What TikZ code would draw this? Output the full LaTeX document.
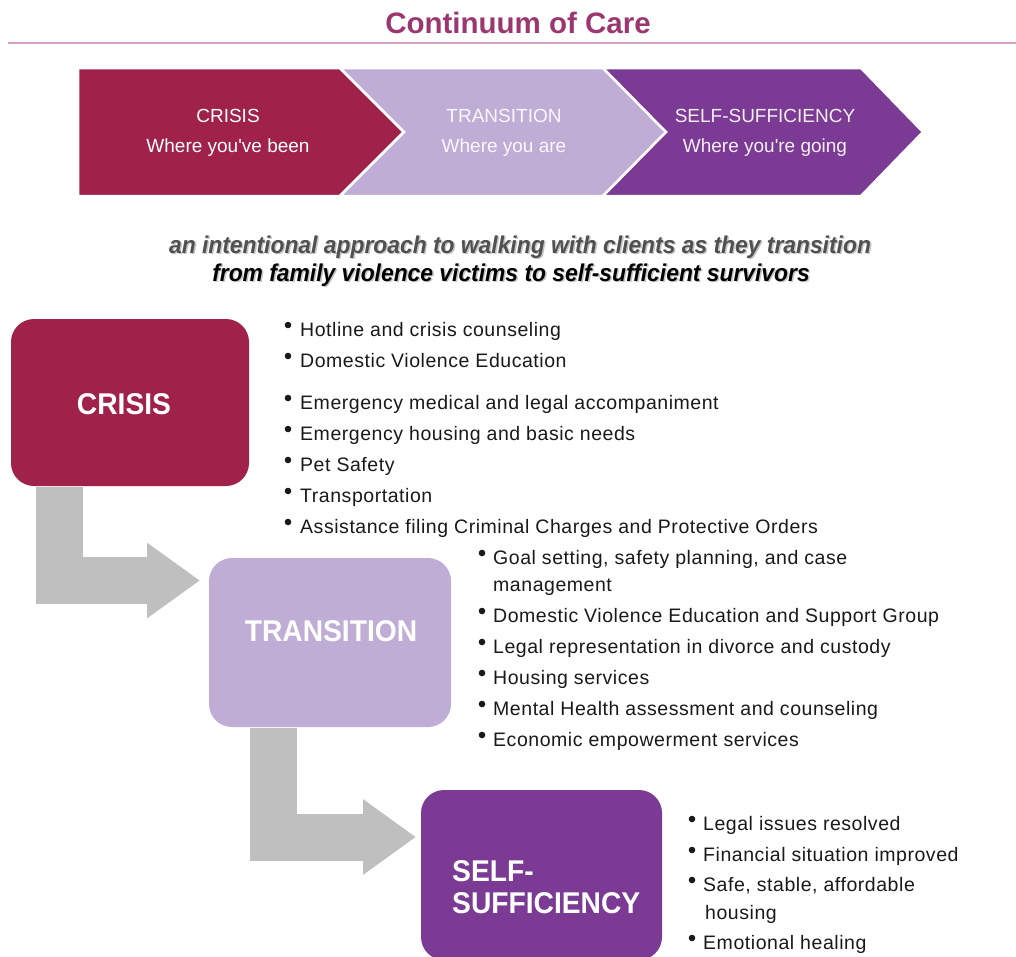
\documentclass[tikz,border=0pt]{standalone}
\usepackage{fontspec}
\setmainfont{Liberation Sans}
\newfontfamily\condfont[FakeStretch=0.94]{Liberation Sans}
\newfontfamily\listfont[LetterSpace=2.8]{Liberation Sans}
\usetikzlibrary{arrows.meta}

\definecolor{titlec}{RGB}{155,55,110}
\definecolor{rulec}{RGB}{214,162,192}
\definecolor{crisisc}{RGB}{160,34,74}
\definecolor{transc}{RGB}{192,173,214}
\definecolor{selfc}{RGB}{123,58,147}
\definecolor{arrowc}{RGB}{191,191,191}
\definecolor{textc}{RGB}{25,25,25}
\definecolor{tagc}{RGB}{80,80,80}

\tikzset{
  chevron/.style={draw=white, line width=2.5pt, line join=miter},
  chevtext/.style={font=\fontsize{19}{19}\selectfont, inner sep=0pt},
  tagline/.style={font=\condfont\bfseries\itshape\fontsize{24.3}{24.3}\selectfont, inner sep=0pt, anchor=base},
  stagebox/.style={rounded corners=23pt, inner sep=0pt},
  boxtext/.style={font=\condfont\bfseries\fontsize{30}{30}\selectfont, text=white, inner sep=0pt},
  blockarrow/.style={draw=arrowc, line width=47pt, line join=miter,
    -{Triangle[width=72pt,length=53pt,fill=arrowc]}},
  item/.style={font=\listfont\fontsize{19.5}{19.5}\selectfont, text=textc, anchor=base west, inner sep=0pt},
  bulletdot/.style={fill=textc},
}

\begin{document}
\begin{tikzpicture}[x=1pt,y=-1pt]
\useasboundingbox (0,0) rectangle (1016,956);
\clip (0,0) rectangle (1016,956);

% heading and rule
\node[font=\bfseries\fontsize{29.5}{29.5}\selectfont, text=titlec, anchor=base, inner sep=0pt] (title) at (518,33) {Continuum of Care};
\coordinate (ruleL) at (8,42.5);
\coordinate (ruleR) at (1016,42.5);
\draw[rulec, line width=2pt] (ruleL) -- (ruleR);

% three-stage chevron band
\fill[crisisc, chevron] (78,68) -- (340,68) -- (404,132) -- (340,196) -- (78,196) -- cycle;
\fill[transc, chevron] (340,68) -- (603,68) -- (666,132) -- (603,196) -- (340,196) -- (404,132) -- cycle;
\fill[selfc, chevron] (603,68) -- (861,68) -- (923,132) -- (861,196) -- (603,196) -- (666,132) -- cycle;

\node[chevtext, text=white] (ch1a) at (228,116) {CRISIS};
\node[chevtext, text=white] (ch1b) at (228,148) {Where you\textquotesingle ve been};
\node[chevtext, text=white!92!transc] (ch2a) at (504,116) {TRANSITION};
\node[chevtext, text=white!92!transc] (ch2b) at (504,148) {Where you are};
\node[chevtext, text=white!92!selfc] (ch3a) at (765,116) {SELF-SUFFICIENCY};
\node[chevtext, text=white!92!selfc] (ch3b) at (765,148) {Where you\textquotesingle re going};

% tag lines with soft drop shadow
\node[tagline, text=gray!45] (tag1s) at (521.5,254.5) {an intentional approach to walking with clients as they transition};
\node[tagline, text=tagc] (tag1) at (520,253) {an intentional approach to walking with clients as they transition};
\node[tagline, text=gray!45] (tag2s) at (512.5,282.5) {from family violence victims to self-sufficient survivors};
\node[tagline, text=black] (tag2) at (511,281) {from family violence victims to self-sufficient survivors};

% stage boxes
\node[stagebox, fill=crisisc, minimum width=238pt, minimum height=167pt] (crisis) at (130,402.5) {};
\node[boxtext] (crisisT) at (124,404) {CRISIS};
\node[stagebox, fill=transc, minimum width=242pt, minimum height=169pt] (transition) at (330,642.5) {};
\node[boxtext] (transT) at (331,631) {TRANSITION};
\node[stagebox, fill=selfc, minimum width=241pt, minimum height=170pt] (self) at (541.5,875) {};
\node[boxtext, anchor=west, align=left, font=\condfont\bfseries\fontsize{30}{32}\selectfont] (selfT) at (452,887) {SELF-\\SUFFICIENCY};

% elbow arrows between stages
\coordinate (a1s) at (59,487);
\coordinate (a1e) at (200,580.5);
\draw[blockarrow] (a1s) |- (a1e);
\coordinate (a2s) at (273.5,728);
\coordinate (a2e) at (416,837);
\draw[blockarrow] (a2s) |- (a2e);

% crisis services
\foreach \y/\t [count=\i] in {336/Hotline and crisis counseling,
  367/Domestic Violence Education,
  409/Emergency medical and legal accompaniment,
  440/Emergency housing and basic needs,
  471/Pet Safety,
  502/Transportation,
  533/Assistance filing Criminal Charges and Protective Orders}{
  \coordinate (b1-\i) at (288,\y-11);
  \fill[bulletdot] (b1-\i) circle[radius=3.3pt];
  \node[item] (l1-\i) at (300,\y) {\t};
}

% transition services
\foreach \y/\t [count=\i] in {564/{Goal setting, safety planning, and case},
  622/Domestic Violence Education and Support Group,
  653/Legal representation in divorce and custody,
  684/Housing services,
  715/Mental Health assessment and counseling,
  746/Economic empowerment services}{
  \coordinate (b2-\i) at (482,\y-11);
  \fill[bulletdot] (b2-\i) circle[radius=3.3pt];
  \node[item] (l2-\i) at (493,\y) {\t};
}
\node[item] (l2-1b) at (493,591) {management};

% self-sufficiency outcomes
\foreach \y/\t [count=\i] in {830/Legal issues resolved,
  861/Financial situation improved,
  891/{Safe, stable, affordable},
  949/Emotional healing}{
  \coordinate (b3-\i) at (692,\y-11);
  \fill[bulletdot] (b3-\i) circle[radius=3.3pt];
  \node[item] (l3-\i) at (703,\y) {\t};
}
\node[item] (l3-3b) at (705,919) {housing};

\end{tikzpicture}
\end{document}
